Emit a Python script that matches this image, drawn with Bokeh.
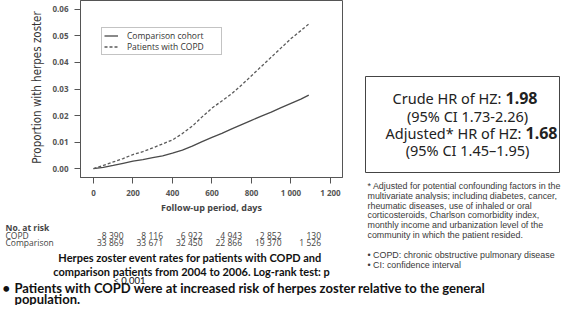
import math
from bokeh.plotting import figure
from bokeh.models import (FixedTicker, NumeralTickFormatter, Legend, LegendItem, Range1d)
from bokeh.layouts import row, column
from bokeh.core.properties import value
from bokeh.embed import file_html
from bokeh.resources import INLINE

# ---------------- data ----------------
days = [0, 50, 100, 150, 200, 250, 300, 350, 400, 450, 500, 550, 600, 650, 700,
        750, 800, 850, 900, 950, 1000, 1050, 1090]
copd = [0.0, 0.0012, 0.0025, 0.0038, 0.0053, 0.0064, 0.0078, 0.0093, 0.0108, 0.0132,
        0.0160, 0.0195, 0.0228, 0.0255, 0.0282, 0.0315, 0.0350, 0.0385, 0.0420, 0.0455,
        0.0490, 0.0520, 0.0545]
comparison = [0.0, 0.0005, 0.0012, 0.0020, 0.0028, 0.0034, 0.0041, 0.0048, 0.0058, 0.0070,
              0.0085, 0.0102, 0.0118, 0.0133, 0.0150, 0.0166, 0.0182, 0.0198, 0.0213, 0.0230,
              0.0246, 0.0262, 0.0277]
x_ticks = [0, 200, 400, 600, 800, 1000, 1200]
x_tick_labels = ["0", "200", "400", "600", "800", "1 000", "1 200"]
y_ticks = [0.0, 0.01, 0.02, 0.03, 0.04, 0.05, 0.06]
risk_days = [0, 200, 400, 600, 800, 1000]
risk_copd = ["8 390", "8 116", "6 922", "4 943", "2 852", "130"]
risk_comparison = ["33 869", "33 671", "32 450", "22 866", "19 370", "1 526"]
series_names = ["Comparison cohort", "Patients with COPD"]

# ---------------- geometry (page px) ----------------
TOP_H = 200               # top strip: page y 8..208
BOT_H = 305 - TOP_H       # bottom strip: page y 208..313
LAB_W = 48                # y-label panel: page x 8..56
CH_W = 344 - LAB_W        # chart: page x 56..352
RP_W = 561 - LAB_W - CH_W # right panel: page x 352..569
FRAME_L, FRAME_R = 88, 350   # frame edges (page x)
X0, X1 = -65.8, 1260.8
Y0, Y1 = -0.00335, 0.06335
PX_DAYS = (X1 - X0) / (FRAME_R - FRAME_L)

def day(px):  # page x -> day scale of the chart
    return X0 + (px - FRAME_L) * PX_DAYS

AX_FONT = "Open Sans"
CAP = "Lato"
BOXF = "Noto Sans"
FN = "Liberation Sans"

# ---------------- chart ----------------
p = figure(width=CH_W, height=TOP_H, output_backend="svg", toolbar_location=None,
           x_range=Range1d(X0, X1), y_range=Range1d(Y0, Y1),
           min_border_left=FRAME_L - 8 - LAB_W, min_border_right=8 + LAB_W + CH_W - FRAME_R,
           min_border_top=0, min_border_bottom=TOP_H - 179)
p.xgrid.visible = False
p.ygrid.visible = False
p.outline_line_color = "#555555"
p.outline_line_width = 1
p.border_fill_color = "white"

p.yaxis.ticker = FixedTicker(ticks=y_ticks)
p.yaxis.formatter = NumeralTickFormatter(format="0.00")
p.xaxis.ticker = FixedTicker(ticks=x_ticks)
p.xaxis.major_label_overrides = {t: s for t, s in zip(x_ticks, x_tick_labels)}
for ax in (p.xaxis[0], p.yaxis[0]):
    ax.axis_line_color = "#555555"
    ax.major_tick_line_color = "#555555"
    ax.major_tick_out = 6
    ax.major_tick_in = 0
    ax.minor_tick_out = 0
    ax.minor_tick_in = 0
    ax.major_label_text_font = AX_FONT
    ax.major_label_text_font_size = "8px"
    ax.major_label_text_font_style = "bold"
    ax.major_label_text_color = "#555555"
p.yaxis.major_label_standoff = 6
p.xaxis.major_label_standoff = 3

r_cmp = p.line(days, comparison, line_color="#4a4a4a", line_width=1.3)
r_copd = p.line(days, copd, line_color="#5a5a5a", line_width=1.3, line_dash="3 2")

legend = Legend(items=[LegendItem(label=series_names[0], renderers=[r_cmp]),
                       LegendItem(label=series_names[1], renderers=[r_copd])],
                location=(21, 122), orientation="vertical")
legend.label_text_font = AX_FONT
legend.label_text_font_size = "8.5px"
legend.label_text_color = "#333333"
legend.label_height = 9
legend.glyph_height = 9
legend.glyph_width = 14
legend.label_standoff = 9
legend.spacing = 0
legend.padding = 2
legend.margin = 0
legend.label_width = 92
legend.border_line_color = "#888888"
legend.border_line_width = 1
p.add_layout(legend, "center")


# ---------------- text panels ----------------
def panel(w, h, xr=None):
    f = figure(width=w, height=h, output_backend="svg", toolbar_location=None,
               x_range=xr if xr is not None else Range1d(0, w), y_range=Range1d(h, 0),
               min_border=0, min_border_left=0, min_border_right=0,
               min_border_top=0, min_border_bottom=0)
    f.xaxis.visible = False
    f.yaxis.visible = False
    f.xgrid.visible = False
    f.ygrid.visible = False
    f.outline_line_color = None
    f.border_fill_color = "white"
    return f


def put(f, x, y, text, font, size, style="normal", color="#333333", align="left", angle=0.0):
    f.text(x=[x], y=[y], text=[text], text_font=value(font), text_font_size=size,
           text_font_style=style, text_color=color, text_align=align,
           text_baseline="middle", angle=angle)


# y-axis title panel
lp = panel(LAB_W, TOP_H)
put(lp, 44 - 8, 95 - 8, "Proportion with herpes zoster", "DejaVu Sans Condensed", "11.5px",
    "normal", "#333333", "center", math.pi / 2)

# right panel (top part)
rp = panel(RP_W, TOP_H)
def rx(px):
    return px - 8 - LAB_W - CH_W
def ry(py):
    return py - 8

rp.quad(left=[rx(373)], right=[rx(567)], top=[ry(84)], bottom=[ry(180)],
        fill_color=None, line_color="#444444", line_width=1)
NS, BS = "14.5px", "16px"
put(rp, rx(509), ry(105), "Crude HR of HZ:", BOXF, NS, "normal", "#222222", "right")
put(rp, rx(513), ry(105), "1.98", BOXF, BS, "bold", "#222222")
put(rp, rx(475), ry(123), "(95% CI 1.73-2.26)", BOXF, NS, "normal", "#222222", "center")
put(rp, rx(529), ry(140), "Adjusted* HR of HZ:", BOXF, NS, "normal", "#222222", "right")
put(rp, rx(533), ry(140), "1.68", BOXF, BS, "bold", "#222222")
put(rp, rx(475), ry(157), "(95% CI 1.45\u20131.95)", BOXF, NS, "normal", "#222222", "center")

foot = ["* Adjusted for potential confounding factors in the",
        "multivariate  analysis; including diabetes, cancer,",
        "rheumatic diseases, use of inhaled  or oral",
        "corticosteroids, Charlson comorbidity index,",
        "monthly income and urbanization  level of the",
        "community in which the patient resided."]
FOOT_Y = [193.2 + i * 9.9 for i in range(len(foot))]
for t, yy in zip(foot[:2], FOOT_Y[:2]):
    put(rp, rx(375), ry(yy), t, FN, "8.9px", "normal", "#3a3a3a")

# bottom strip (full width); x follows the chart's day scale
bp = panel(561, BOT_H, Range1d(day(8), day(569)))
def by(py):
    return py - 8 - TOP_H

put(bp, day(219), by(214.5), "Follow-up period, days", AX_FONT, "9px", "bold", "#444444", "center")
put(bp, day(13), by(235), "No. at risk", AX_FONT, "8.5px", "bold", "#444444")
put(bp, day(13), by(242.5), "COPD", AX_FONT, "8.5px", "normal", "#444444")
put(bp, day(13), by(250), "Comparison", AX_FONT, "8.5px", "normal", "#444444")
for d, a, b in zip(risk_days, risk_copd, risk_comparison):
    put(bp, d + 30 * PX_DAYS, by(242.5), a, AX_FONT, "8.5px", "normal", "#444444", "right")
    put(bp, d + 30 * PX_DAYS, by(250), b, AX_FONT, "8.5px", "normal", "#444444", "right")
put(bp, day(199), by(265), "Herpes zoster event rates for patients with  COPD and",
    CAP, "11px", "bold", "#111111", "center")
put(bp, day(199), by(279), "comparison patients from 2004 to 2006. Log-rank test: p",
    CAP, "11px", "bold", "#111111", "center")
put(bp, day(137), by(288), "< 0.001", CAP, "9.5px", "normal", "#111111", "center")

for t, yy in zip(foot[2:], FOOT_Y[2:]):
    put(bp, day(375), by(yy), t, FN, "8.9px", "normal", "#3a3a3a")
put(bp, day(375), by(262.5), "\u2022 COPD: chronic obstructive pulmonary disease", FN, "8.9px",
    "normal", "#3a3a3a")
put(bp, day(375), by(272.5), "\u2022 CI: confidence interval", FN, "8.9px", "normal", "#3a3a3a")

put(bp, day(10), by(295.5), "\u2022", CAP, "13px", "bold", "#111111")
put(bp, day(22), by(295.5), "Patients with COPD were at increased risk of herpes zoster relative to the general",
    CAP, "13px", "bold", "#111111")
put(bp, day(22), by(306), "population.", CAP, "13px", "bold", "#111111")

layout = column(row(column(lp), column(p), column(rp)), bp)
open("out.html", "w").write(file_html(layout, INLINE))
